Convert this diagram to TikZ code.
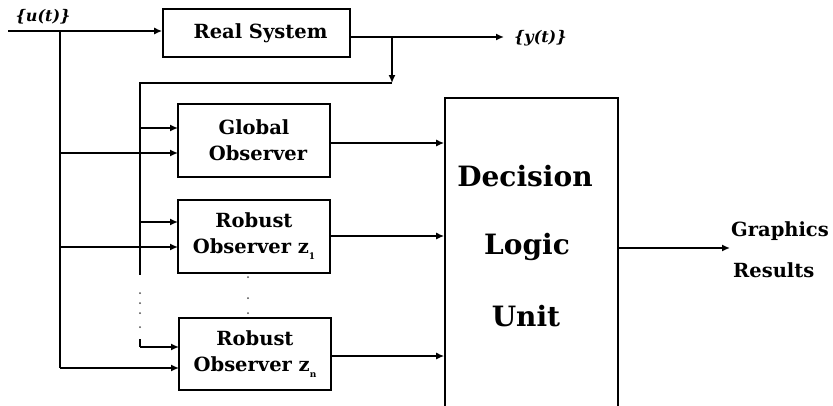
\documentclass[tikz,border=0pt]{standalone}
\usepackage{fontspec}
\setmainfont{DejaVu Serif}
\usetikzlibrary{arrows.meta}
\begin{document}
\begin{tikzpicture}[x=1pt,y=-1pt,
  blk/.style={draw, line width=1.6pt, inner sep=0pt, font=\bfseries\fontsize{19.5}{26}\selectfont, align=center},
  lbl/.style={inner sep=0pt, font=\bfseries\fontsize{19.5}{24}\selectfont, align=center},
  big/.style={inner sep=0pt, font=\bfseries\fontsize{28}{32}\selectfont},
  ln/.style={line width=1.5pt},
  arr/.style={ln, -{Latex[length=8pt,width=7pt]}},
  dotp/.style={fill=black!70}]
\clip (0,0) rectangle (833,405);
\fill[white] (0,0) rectangle (833,405);
% blocks
\node[blk, minimum width=187pt, minimum height=48pt] (rs) at (256.5,33) {\hspace*{8pt}Real System};
\node[blk, minimum width=152pt, minimum height=73pt] (go) at (254,140.5) {Global\\\hspace*{8pt}Observer};
\node[blk, minimum width=152pt, minimum height=73pt] (r1) at (254,236.5) {Robust\\Observer z\raisebox{-6pt}{\fontsize{9}{9}\selectfont 1}};
\node[blk, minimum width=152pt, minimum height=72pt] (rn) at (255,354) {Robust\\Observer z\raisebox{-6pt}{\fontsize{9}{9}\selectfont n}};
\node[draw, line width=1.6pt, minimum width=173pt, minimum height=320pt, inner sep=0pt] (dlu) at (531.5,258) {};
\node[big] (dl1) at (525,176) {Decision};
\node[big] (dl2) at (527,247) {Logic};
\node[big] (dl3) at (526,316) {Unit};
% labels
\node[lbl, font=\bfseries\itshape\fontsize{16}{18}\selectfont] (ulab) at (43,17) {\{u(t)\}};
\node[lbl, font=\bfseries\itshape\fontsize{16}{18}\selectfont, anchor=west] (ylab) at (514,38) {\{y(t)\}};
\node[lbl, anchor=west] (grl) at (731,231) {Graphics};
\node[lbl, anchor=west] (rsl) at (733,270) {Results};
% coordinates
\coordinate (uin) at (8,31);
\coordinate (ubr) at (60,31);
\coordinate (ubot) at (60,368);
\coordinate (ybr) at (392,37);
\coordinate (yend) at (504,37);
\coordinate (fbr) at (392,83);
\coordinate (fbc) at (140,83);
\coordinate (fda) at (140,275);
\coordinate (fdb) at (140,339);
\coordinate (fbot) at (140,347);
\coordinate (gout) at (730,248);
\coordinate (go1) at (178,128);
\coordinate (go2) at (178,153);
\coordinate (r11) at (178,222);
\coordinate (r12) at (178,247);
\coordinate (rn1) at (179,347);
\coordinate (rn2) at (179,368);
\coordinate (rso) at ([yshift=-4pt]rs.east);
\coordinate (goo) at ([yshift=-2.5pt]go.east);
\coordinate (r1o) at ([yshift=0.5pt]r1.east);
\coordinate (rno) at ([yshift=-2pt]rn.east);
% connectors
\draw[arr] (uin) -- (uin -| rs.west);
\draw[arr] (rso) -- (yend);
\draw[arr] (ybr) -- (fbr);
\draw[ln] (fbr) -- (fbc) -- (fda);
\draw[ln] (fdb) -- (fbot);
\draw[arr] (fbot) -- (rn1);
\draw[ln] (ubr) -- (ubot);
\draw[arr] (ubot) -- (rn2);
\draw[arr] (fbc |- go1) -- (go1);
\draw[arr] (ubr |- go2) -- (go2);
\draw[arr] (fbc |- r11) -- (r11);
\draw[arr] (ubr |- r12) -- (r12);
\draw[arr] (goo) -- (dlu.west |- goo);
\draw[arr] (r1o) -- (dlu.west |- r1o);
\draw[arr] (rno) -- (dlu.west |- rno);
\draw[arr] (dlu.east |- gout) -- (gout);
% dots
\foreach \yy in {293,303,313,327} \fill[dotp] (140,\yy) circle (1pt);
\foreach \yy in {277,298,313} \fill[dotp] (248,\yy) circle (1pt);
\end{tikzpicture}
\end{document}
